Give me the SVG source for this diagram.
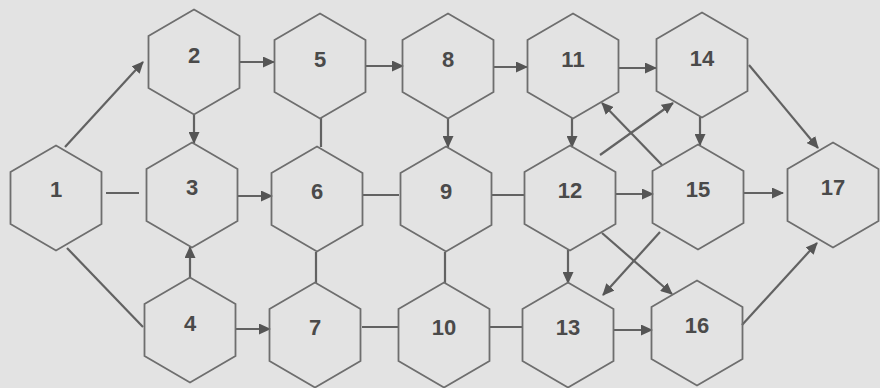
<svg xmlns="http://www.w3.org/2000/svg" width="880" height="388" viewBox="0 0 880 388">
<style>
.hex{fill:none;stroke:#6e6e6e;stroke-width:1.8}
.lbl{font-family:"Liberation Sans",Arial,sans-serif;font-weight:bold;font-size:22px;fill:#4a4a4a;text-anchor:middle}
.e{stroke:#626262;stroke-width:2.2;fill:none}
.a{marker-end:url(#ah)}
</style>
<defs>
<polygon id="hx" points="0,-52.5 45.5,-26 45.5,26 0,52.5 -45.5,26 -45.5,-26"/>
<marker id="ah" markerUnits="userSpaceOnUse" markerWidth="12" markerHeight="11" refX="11" refY="5.5" orient="auto">
<path d="M0,0 L12,5.5 L0,11 z" fill="#555"/>
</marker>
</defs>
<rect width="880" height="388" fill="#e3e3e3"/>
<g id="connectors">
<line class="e a" x1="65" y1="147" x2="143" y2="62"/>
<line class="e a" x1="194" y1="115" x2="194" y2="143"/>
<line class="e a" x1="190" y1="278" x2="190" y2="247"/>
<line class="e a" x1="239" y1="62" x2="274" y2="62"/>
<line class="e a" x1="237" y1="196" x2="272" y2="196"/>
<line class="e a" x1="236" y1="329" x2="270" y2="329"/>
<line class="e a" x1="366" y1="66" x2="403" y2="66"/>
<line class="e a" x1="448" y1="118" x2="448" y2="147"/>
<line class="e a" x1="494" y1="67" x2="527" y2="67"/>
<line class="e a" x1="572" y1="118" x2="572" y2="147"/>
<line class="e a" x1="619" y1="68" x2="656" y2="68"/>
<line class="e a" x1="568" y1="250" x2="568" y2="283"/>
<line class="e a" x1="600" y1="155" x2="673" y2="103"/>
<line class="e a" x1="662" y1="165" x2="602" y2="103"/>
<line class="e a" x1="615" y1="194" x2="653" y2="194"/>
<line class="e a" x1="602" y1="233" x2="672" y2="294"/>
<line class="e a" x1="660" y1="232" x2="603" y2="295"/>
<line class="e a" x1="614" y1="330" x2="652" y2="330"/>
<line class="e a" x1="700" y1="117" x2="700" y2="145"/>
<line class="e a" x1="749" y1="65" x2="818" y2="148"/>
<line class="e a" x1="743" y1="193" x2="783" y2="193"/>
<line class="e a" x1="742" y1="325" x2="817" y2="243"/>
<line class="e" x1="106" y1="193" x2="139" y2="193"/>
<line class="e" x1="67" y1="248" x2="143" y2="327"/>
<line class="e" x1="321" y1="118" x2="321" y2="147"/>
<line class="e" x1="316" y1="252" x2="316" y2="283"/>
<line class="e" x1="363" y1="195" x2="399" y2="195"/>
<line class="e" x1="362" y1="327" x2="398" y2="327"/>
<line class="e" x1="445" y1="252" x2="445" y2="283"/>
<line class="e" x1="492" y1="195" x2="525" y2="195"/>
<line class="e" x1="489" y1="327" x2="523" y2="327"/>
</g>
<g id="n1"><use href="#hx" class="hex" x="56" y="198"/><text class="lbl" x="56" y="197">1</text></g>
<g id="n2"><use href="#hx" class="hex" x="194" y="62"/><text class="lbl" x="194" y="63">2</text></g>
<g id="n3"><use href="#hx" class="hex" x="192" y="195"/><text class="lbl" x="192" y="195">3</text></g>
<g id="n4"><use href="#hx" class="hex" x="190" y="330"/><text class="lbl" x="190" y="331">4</text></g>
<g id="n5"><use href="#hx" class="hex" x="320" y="66"/><text class="lbl" x="320" y="67">5</text></g>
<g id="n6"><use href="#hx" class="hex" x="317" y="199"/><text class="lbl" x="317" y="199">6</text></g>
<g id="n7"><use href="#hx" class="hex" x="315" y="335"/><text class="lbl" x="315" y="335">7</text></g>
<g id="n8"><use href="#hx" class="hex" x="448" y="66"/><text class="lbl" x="448" y="67">8</text></g>
<g id="n9"><use href="#hx" class="hex" x="446" y="199"/><text class="lbl" x="446" y="199">9</text></g>
<g id="n10"><use href="#hx" class="hex" x="444" y="335"/><text class="lbl" x="444" y="335">10</text></g>
<g id="n11"><use href="#hx" class="hex" x="573" y="66"/><text class="lbl" x="573" y="67">11</text></g>
<g id="n12"><use href="#hx" class="hex" x="570" y="198"/><text class="lbl" x="570" y="198">12</text></g>
<g id="n13"><use href="#hx" class="hex" x="568" y="335"/><text class="lbl" x="568" y="335">13</text></g>
<g id="n14"><use href="#hx" class="hex" x="702" y="65"/><text class="lbl" x="702" y="66">14</text></g>
<g id="n15"><use href="#hx" class="hex" x="698" y="197"/><text class="lbl" x="698" y="197">15</text></g>
<g id="n16"><use href="#hx" class="hex" x="697" y="333"/><text class="lbl" x="697" y="333">16</text></g>
<g id="n17"><use href="#hx" class="hex" x="833" y="195"/><text class="lbl" x="833" y="195">17</text></g>
</svg>
